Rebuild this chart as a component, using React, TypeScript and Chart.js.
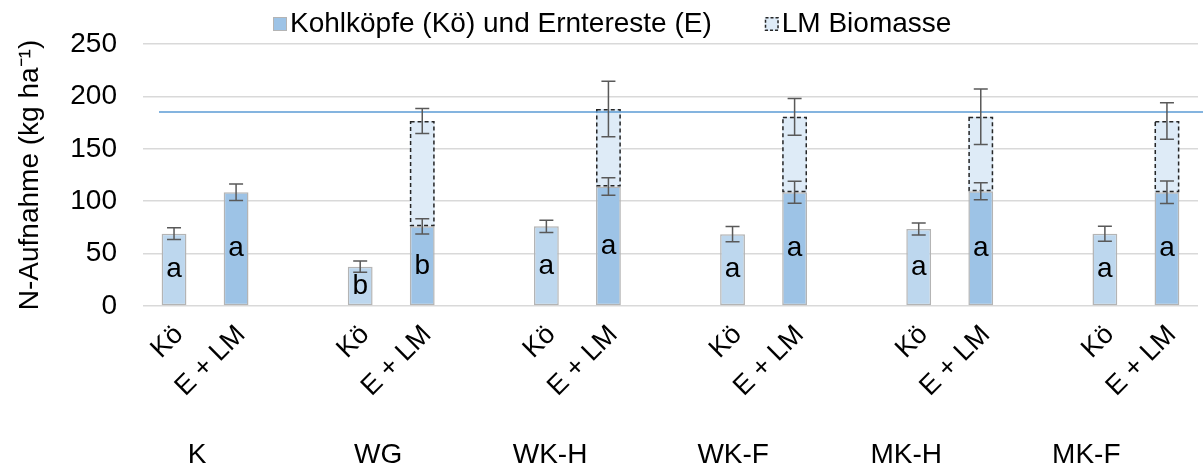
import React, { useEffect, useRef } from 'react';
import { Chart, registerables } from 'chart.js';

Chart.register(...registerables);

// ---------- data ----------
const groups = ['K', 'WG', 'WK-H', 'WK-F', 'MK-H', 'MK-F'];
const barLabels = ['Kö', 'E + LM'];
const koValues = [69, 37.5, 76, 68.5, 73.5, 69];
const koErrors = [5.6, 5.4, 5.8, 7.3, 5.8, 7.2];
const koLetters = ['a', 'b', 'a', 'a', 'a', 'a'];
const eValues = [108.5, 76, 114, 108.5, 109.5, 108.5];
const eErrors = [7.8, 7.2, 8.4, 10.5, 8.2, 10.7];
const eLetters = ['a', 'b', 'a', 'a', 'a', 'a'];
const lmTotals: (number | null)[] = [null, 176.5, 188, 180.5, 180.5, 176.5];
const lmErrors: (number | null)[] = [null, 12, 26.5, 17.5, 26.5, 17.5];
const referenceLine = 185;
const legendLabels = ['Kohlköpfe (Kö) und Erntereste (E)', 'LM Biomasse'];
const yTitle = 'N-Aufnahme (kg ha⁻¹)';
const yMin = 0;
const yMax = 250;
const yStep = 50;
// fractional category positions of the group captions
const groupLabelSlots = [0.37, 3.29, 6.06, 9.01, 11.8, 14.7];

// ---------- derived tables ----------
const categories: string[] = [];
groups.forEach((g, i) => {
  categories.push(barLabels[0], barLabels[1]);
  if (i < groups.length - 1) categories.push('');
});
const n = categories.length;
const koData: (number | null)[] = new Array(n).fill(null);
const eData: (number | null)[] = new Array(n).fill(null);
const lmData: (number | null)[] = new Array(n).fill(null);
groups.forEach((g, i) => {
  koData[3 * i] = koValues[i];
  eData[3 * i + 1] = eValues[i];
  const t = lmTotals[i];
  lmData[3 * i + 1] = t === null ? null : t - eValues[i];
});

const FONT = '"Liberation Sans", Arial, sans-serif';
const C_KO = '#BDD7EE';
const C_E = '#9DC3E6';
const C_LM = '#DEEBF7';
const C_BORDER = '#B4B4B4';
const C_DASH = '#262626';
const C_ERR = '#595959';
const C_REF = '#5B9BD5';

const overlayPlugin = {
  id: 'overlay',
  afterDatasetsDraw(chart: any) {
    const ctx = chart.ctx;
    const y = chart.scales.y;
    const area = chart.chartArea;
    const metaKo = chart.getDatasetMeta(0);
    const metaE = chart.getDatasetMeta(1);
    const metaLM = chart.getDatasetMeta(2);
    ctx.save();

    // dashed outline for LM segments
    ctx.setLineDash([4, 3]);
    ctx.strokeStyle = C_DASH;
    ctx.lineWidth = 1.5;
    groups.forEach((g, i) => {
      if (lmTotals[i] === null) return;
      const el = metaLM.data[3 * i + 1];
      const p = el.getProps(['x', 'y', 'base', 'width'], true);
      const l = p.x - p.width / 2;
      ctx.strokeRect(l + 0.75, p.y + 0.75, p.width - 1.5, p.base - p.y - 1.5);
    });
    ctx.setLineDash([]);

    // reference line
    const ry = y.getPixelForValue(referenceLine);
    ctx.strokeStyle = C_REF;
    ctx.lineWidth = 1.5;
    ctx.beginPath();
    ctx.moveTo(area.left + 16, ry);
    ctx.lineTo(chart.width, ry);
    ctx.stroke();

    // error bars
    ctx.strokeStyle = C_ERR;
    ctx.lineWidth = 1.5;
    const cap = 7;
    const drawErr = (x: number, v: number, e: number) => {
      const t = y.getPixelForValue(v + e);
      const b = y.getPixelForValue(v - e);
      ctx.beginPath();
      ctx.moveTo(x, t);
      ctx.lineTo(x, b);
      ctx.moveTo(x - cap, t);
      ctx.lineTo(x + cap, t);
      ctx.moveTo(x - cap, b);
      ctx.lineTo(x + cap, b);
      ctx.stroke();
    };
    groups.forEach((g, i) => {
      drawErr(metaKo.data[3 * i].x, koValues[i], koErrors[i]);
      drawErr(metaE.data[3 * i + 1].x, eValues[i], eErrors[i]);
      const t = lmTotals[i];
      const te = lmErrors[i];
      if (t !== null && te !== null) drawErr(metaLM.data[3 * i + 1].x, t, te);
    });

    // significance letters
    ctx.fillStyle = '#000';
    ctx.font = `28px ${FONT}`;
    ctx.textAlign = 'center';
    ctx.textBaseline = 'middle';
    groups.forEach((g, i) => {
      const a = metaKo.data[3 * i].getProps(['x', 'y', 'base'], true);
      ctx.fillText(koLetters[i], a.x, (a.y + a.base) / 2);
      const b = metaE.data[3 * i + 1].getProps(['x', 'y', 'base'], true);
      ctx.fillText(eLetters[i], b.x, (b.y + b.base) / 2);
    });
    ctx.restore();
  },
  afterDraw(chart: any) {
    const ctx = chart.ctx;
    const x = chart.scales.x;
    const area = chart.chartArea;
    ctx.save();
    // group captions
    ctx.fillStyle = '#000';
    ctx.font = `28px ${FONT}`;
    ctx.textAlign = 'center';
    ctx.textBaseline = 'middle';
    groups.forEach((g, i) => {
      ctx.fillText(g, x.getPixelForValue(groupLabelSlots[i]), area.bottom + 149);
    });

    // legend
    ctx.textAlign = 'left';
    ctx.textBaseline = 'alphabetic';
    const boxTop = 17;
    const box = 14;
    const baseY = 32;
    let lx = 273;
    // item 1
    ctx.fillStyle = C_E;
    ctx.fillRect(lx, boxTop, box, box);
    ctx.strokeStyle = C_BORDER;
    ctx.lineWidth = 1;
    ctx.strokeRect(lx + 0.5, boxTop + 0.5, box - 1, box - 1);
    ctx.fillStyle = '#000';
    ctx.fillText(legendLabels[0], lx + box + 3, baseY);
    lx = lx + box + 3 + ctx.measureText(legendLabels[0]).width + 53;
    // item 2
    ctx.fillStyle = C_LM;
    ctx.fillRect(lx, boxTop, box, box);
    ctx.setLineDash([3, 2]);
    ctx.strokeStyle = C_DASH;
    ctx.lineWidth = 1.5;
    ctx.strokeRect(lx + 0.75, boxTop + 0.75, box - 1.5, box - 1.5);
    ctx.setLineDash([]);
    ctx.fillStyle = '#000';
    ctx.fillText(legendLabels[1], lx + box + 3, baseY);
    ctx.restore();
  },
};

export default function App() {
  const ref = useRef<HTMLCanvasElement | null>(null);
  useEffect(() => {
    document.body.style.margin = '0';
    Chart.defaults.font.family = FONT;
    const chart = new Chart(ref.current as HTMLCanvasElement, {
      type: 'bar',
      data: {
        labels: categories,
        datasets: [
          {
            label: 'Kö',
            data: koData,
            backgroundColor: C_KO,
            borderColor: C_BORDER,
            borderWidth: 1.5,
            borderSkipped: false,
          },
          {
            label: legendLabels[0],
            data: eData,
            backgroundColor: C_E,
            borderColor: C_BORDER,
            borderWidth: 1.5,
            borderSkipped: false,
          },
          {
            label: legendLabels[1],
            data: lmData,
            backgroundColor: C_LM,
            borderWidth: 0,
          },
        ],
      },
      options: {
        animation: false,
        responsive: true,
        maintainAspectRatio: false,
        layout: { padding: { top: 44, right: 5, left: 0, bottom: 0 } },
        datasets: { bar: { categoryPercentage: 1, barPercentage: 0.4 } },
        plugins: {
          legend: { display: false },
          tooltip: { enabled: false },
        },
        scales: {
          x: {
            stacked: true,
            grid: { display: false, drawTicks: false },
            border: { display: false },
            ticks: {
              autoSkip: false,
              minRotation: 45,
              maxRotation: 45,
              padding: 13,
              labelOffset: 5,
              color: '#000',
              font: { size: 27, family: FONT },
            },
            afterFit(scale: any) {
              scale.height = 162;
            },
          },
          y: {
            stacked: true,
            min: yMin,
            max: yMax,
            grid: { color: '#D9D9D9', lineWidth: 1.5, drawTicks: false },
            border: { display: false },
            ticks: {
              stepSize: yStep,
              padding: 26,
              color: '#000',
              font: { size: 28, family: FONT },
            },
            title: {
              display: true,
              text: yTitle,
              color: '#000',
              font: { size: 28, family: FONT },
              padding: { top: 13, bottom: 0 },
            },
            afterFit(scale: any) {
              scale.width = 143;
            },
          },
        },
      },
      plugins: [overlayPlugin],
    } as any);
    return () => chart.destroy();
  }, []);
  return (
    <div style={{ position: 'fixed', left: 0, top: 0, width: 1203, height: 468 }}>
      <canvas ref={ref} />
    </div>
  );
}
